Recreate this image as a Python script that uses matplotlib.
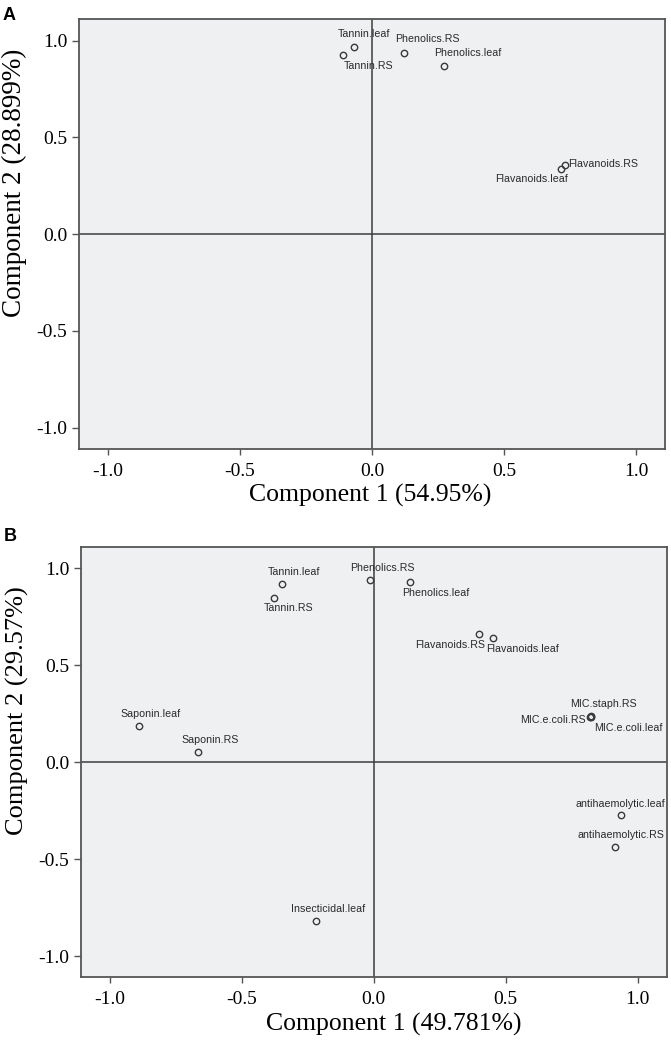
import matplotlib
matplotlib.use("Agg")
import matplotlib.pyplot as plt

# Panel A: component loadings
a_names = ["Tannin.leaf", "Tannin.RS", "Phenolics.RS", "Phenolics.leaf",
           "Flavanoids.RS", "Flavanoids.leaf"]
a_x = [-0.068, -0.110, 0.120, 0.274, 0.732, 0.715]
a_y = [0.965, 0.926, 0.938, 0.870, 0.359, 0.338]
a_xlabel = "Component 1 (54.95%)"
a_ylabel = "Component 2 (28.899%)"

# Panel B: component loadings
b_names = ["Tannin.leaf", "Tannin.RS", "Phenolics.RS", "Phenolics.leaf",
           "Flavanoids.RS", "Flavanoids.leaf", "MIC.staph.RS", "MIC.e.coli.RS",
           "MIC.e.coli.leaf", "antihaemolytic.leaf", "antihaemolytic.RS",
           "Saponin.leaf", "Saponin.RS", "Insecticidal.leaf"]
b_x = [-0.348, -0.378, -0.015, 0.136, 0.399, 0.452, 0.822, 0.818, 0.824,
       0.936, 0.914, -0.891, -0.668, -0.219]
b_y = [0.916, 0.845, 0.940, 0.926, 0.661, 0.641, 0.236, 0.234, 0.231,
       -0.271, -0.436, 0.187, 0.051, -0.818]
b_xlabel = "Component 1 (49.781%)"
b_ylabel = "Component 2 (29.57%)"

ticks = [-1.0, -0.5, 0.0, 0.5, 1.0]

# label placement (offset in pixels, horizontal alignment)
a_place = {
    "Tannin.leaf": (-16, 13, "left"),
    "Tannin.RS": (1, -11, "left"),
    "Phenolics.RS": (-9, 14, "left"),
    "Phenolics.leaf": (-10, 13, "left"),
    "Flavanoids.RS": (3, 1, "left"),
    "Flavanoids.leaf": (7, -10, "right"),
}
b_place = {
    "Tannin.leaf": (12, 12, "center"),
    "Tannin.RS": (14, -10, "center"),
    "Phenolics.RS": (12, 12, "center"),
    "Phenolics.leaf": (26, -11, "center"),
    "Flavanoids.RS": (6, -11, "right"),
    "Flavanoids.leaf": (-7, -11, "left"),
    "MIC.staph.RS": (13, 12, "center"),
    "MIC.e.coli.RS": (-4, -3, "right"),
    "MIC.e.coli.leaf": (3, -11, "left"),
    "antihaemolytic.leaf": (0, 11, "center"),
    "antihaemolytic.RS": (6, 12, "center"),
    "Saponin.leaf": (12, 12, "center"),
    "Saponin.RS": (13, 12, "center"),
    "Insecticidal.leaf": (12, 12, "center"),
}

plt.rcParams["axes.unicode_minus"] = False
serif = "Liberation Serif"
sans = "Liberation Sans"


def draw_panel(ax, names, xs, ys, place, xlabel, ylabel, xlab_x, ylab_size):
    ax.set_facecolor("#eff0f2")
    for s in ax.spines.values():
        s.set_color("#555555")
        s.set_linewidth(1.3)
    ax.axhline(0, color="#3c3c3c", lw=1.1, zorder=1)
    ax.axvline(0, color="#3c3c3c", lw=1.1, zorder=1)
    ax.plot(xs, ys, linestyle="none", marker="o", markersize=4.6,
            markerfacecolor="none", markeredgecolor="#3a3a3a",
            markeredgewidth=1.0, zorder=3)
    for name, x, y in zip(names, xs, ys):
        dx, dy, ha = place[name]
        ax.annotate(name, (x, y), xytext=(dx, dy), textcoords="offset pixels",
                    ha=ha, va="center", fontsize=7.7, family=sans,
                    color="#2a2a2a", zorder=4)
    ax.set_xlim(-1.11, 1.11)
    ax.set_ylim(-1.11, 1.11)
    ax.set_xticks(ticks)
    ax.set_yticks(ticks)
    ax.set_xticklabels([f"{t:.1f}" for t in ticks], family=serif, fontsize=14)
    ax.set_yticklabels([f"{t:.1f}" for t in ticks], family=serif, fontsize=14)
    ax.tick_params(axis="x", length=4, width=1, color="#555555", pad=6)
    ax.tick_params(axis="y", length=5, width=1, color="#555555", pad=3.5)
    ax.set_xlabel(xlabel, family=serif, fontsize=18.5)
    ax.set_ylabel(ylabel, family=serif, fontsize=ylab_size)
    ax.xaxis.set_label_coords(xlab_x, -0.082)
    ax.yaxis.set_label_coords(-0.089, 0.62)


fig = plt.figure(figsize=(6.71, 10.43), dpi=100)
ax_a = fig.add_axes([0.1177, 0.5695, 0.8733, 0.4120])
ax_b = fig.add_axes([0.1207, 0.0628, 0.8729, 0.4130])

draw_panel(ax_a, a_names, a_x, a_y, a_place, a_xlabel, a_ylabel, 0.497, 19.5)
draw_panel(ax_b, b_names, b_x, b_y, b_place, b_xlabel, b_ylabel, 0.534, 19)

fig.text(0.0045, 0.9933, "A", family=sans, fontweight="bold", fontsize=13,
         va="top", ha="left")
fig.text(0.006, 0.4938, "B", family=sans, fontweight="bold", fontsize=13,
         va="top", ha="left")

fig.savefig("out.png", dpi=100)
